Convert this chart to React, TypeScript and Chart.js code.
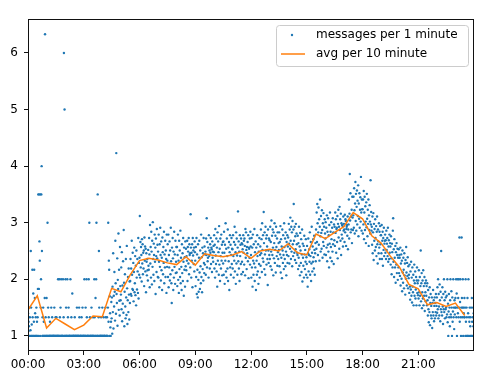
import React, { useEffect, useRef } from "react";
import { Chart, registerables } from "chart.js";

Chart.register(...registerables);

// messages per 1 minute, in hundredths, one value per minute
const msgs00 = [
  140,108,125,117,150,100,133,100,110,250,150,100,120,100,217,133,100,175,100,125,217,100,167,140,100,133,100,150,100,125,
  100,133,183,350,100,183,350,267,233,100,350,150,200,350,400,250,100,133,100,150,100,125,100,100,167,633,100,133,100,100,
  167,100,100,300,100,150,100,133,100,100,100,125,100,100,100,150,100,100,133,100,100,100,100,100,100,150,100,100,100,133,
  100,100,133,100,100,100,100,200,100,100,100,200,100,133,100,150,100,200,100,100,100,100,100,200,100,133,600,100,500,100,
  100,200,100,150,100,100,100,200,100,133,100,150,100,100,100,100,100,200,100,100,133,100,100,175,100,100,100,100,100,100,
  100,133,100,100,100,100,100,100,150,100,100,100,100,100,100,150,133,100,100,100,100,100,100,133,100,100,150,100,100,100,
];
const msgs03 = [
  100,100,200,100,100,100,150,100,100,200,133,100,100,100,100,100,200,100,300,100,133,100,100,100,100,150,100,100,100,100,
  133,100,100,100,200,133,100,100,167,100,200,300,100,100,100,350,100,100,133,250,150,100,100,100,100,100,133,100,100,100,
  150,100,100,100,133,100,100,100,100,100,150,133,100,100,100,133,100,100,150,300,125,233,217,100,170,140,115,100,125,160,
  131,168,104,187,142,246,113,171,152,213,178,127,268,193,139,423,174,158,237,118,199,183,281,146,217,162,136,257,188,163,
  173,221,147,248,126,189,157,232,141,287,194,117,178,209,152,131,236,168,137,259,184,121,163,204,142,219,173,129,196,158,
  197,236,174,219,171,268,208,183,247,181,229,161,213,256,177,193,241,172,224,154,251,203,182,236,214,176,273,166,229,208,
];
const msgs06 = [
  238,312,203,266,221,257,243,196,271,228,262,209,247,219,251,188,274,233,258,214,254,177,246,231,207,236,216,198,252,224,
  217,273,244,186,296,228,257,203,284,249,191,268,222,301,236,208,263,243,197,279,231,256,174,272,241,213,289,237,261,204,
  249,203,279,231,186,262,222,291,243,198,267,216,238,181,274,248,209,257,229,284,193,244,221,268,204,251,236,176,279,222,
  233,262,204,279,186,243,221,267,198,251,209,291,232,193,158,256,216,273,237,181,249,203,284,222,244,192,268,211,231,257,
  212,257,188,243,279,199,233,176,268,218,251,204,286,193,238,222,181,262,211,246,197,273,231,171,256,217,239,187,267,223,
  254,216,241,233,268,197,257,249,228,273,209,262,243,246,221,315,256,203,247,233,262,186,273,242,251,227,256,214,267,248,
];
const msgs09 = [
  233,188,257,204,273,174,244,217,168,262,199,178,238,268,212,183,251,223,193,279,204,239,177,256,218,246,198,273,229,211,
  258,226,244,249,208,272,243,308,221,266,232,238,256,203,278,241,251,219,262,247,273,227,256,253,213,267,238,249,231,259,
  248,278,219,261,203,289,242,227,272,214,256,187,283,233,267,248,208,294,226,254,197,272,241,219,279,233,261,207,247,266,
  228,267,208,284,247,192,261,233,299,214,254,203,272,241,219,288,197,256,232,266,181,248,278,221,261,208,243,273,227,254,
  253,219,278,241,203,266,233,293,214,261,248,192,283,228,272,242,208,256,320,232,267,219,249,197,278,241,261,227,272,209,
  264,231,262,253,213,278,247,268,226,272,259,207,289,238,283,252,218,257,246,266,232,278,202,256,254,238,272,226,284,258,
];
const msgs12 = [
  243,203,273,221,256,187,279,233,208,262,228,289,197,248,221,267,181,256,233,208,278,241,214,262,192,249,227,273,203,243,
  258,224,288,246,271,213,299,252,237,278,231,319,264,218,283,244,208,293,251,272,226,278,258,236,190,288,251,229,272,243,
  269,236,293,223,266,249,304,217,277,243,288,256,207,283,237,264,299,229,252,277,212,293,257,241,272,224,283,248,236,264,
  252,283,223,266,244,294,212,271,238,258,202,288,251,229,278,243,218,299,257,236,272,223,283,249,207,266,243,278,229,258,
  274,241,298,263,228,288,254,309,268,236,293,249,283,223,303,262,241,288,333,268,247,293,234,276,253,298,229,281,262,247,
  243,277,218,264,238,293,224,258,207,282,251,229,271,213,244,288,196,263,238,224,259,203,277,244,218,252,231,271,208,239,
];
const msgs15 = [
  227,259,203,187,246,272,214,243,253,231,283,208,241,266,197,228,293,247,214,258,231,271,239,219,277,252,208,246,264,232,
  288,254,318,266,333,299,243,283,327,261,306,233,293,341,276,249,312,282,254,322,287,238,299,266,317,259,293,244,306,281,
  272,301,243,291,256,313,232,284,261,308,249,278,221,296,263,318,238,284,257,301,271,232,291,249,308,262,283,227,297,269,
  293,259,318,282,306,247,289,291,266,312,237,298,323,274,293,254,328,287,306,268,316,243,299,279,296,272,294,258,311,286,
  298,288,266,314,283,306,303,259,289,293,296,277,311,253,288,297,341,272,316,386,304,352,283,311,288,323,264,346,309,287,
  313,346,291,361,322,281,334,372,303,351,286,328,357,297,339,312,366,276,334,307,352,291,323,345,302,381,318,286,341,324,
];
const msgs18 = [
  324,281,341,297,356,271,318,346,287,329,302,264,336,292,351,307,276,323,298,341,259,313,287,331,302,281,375,297,319,286,
  293,261,311,246,283,317,234,298,268,289,251,306,273,257,294,241,284,311,262,228,288,267,246,299,256,284,236,294,262,278,
  278,246,296,236,268,284,224,273,252,291,241,263,268,279,247,269,236,286,252,263,273,241,291,231,258,269,236,279,247,264,
  258,226,276,237,209,263,248,221,286,308,231,253,204,271,238,221,259,194,248,226,264,211,243,254,199,238,221,253,211,243,
  238,206,256,189,228,244,201,233,179,251,212,194,238,217,184,246,207,228,173,234,201,257,212,189,229,206,239,184,223,202,
  208,176,226,187,164,214,182,231,171,203,159,221,187,177,208,154,198,226,171,193,214,166,182,204,154,198,221,176,193,172,
];
const msgs21 = [
  198,166,216,177,154,204,171,188,251,161,193,211,149,177,198,166,216,154,188,171,204,144,193,177,161,198,171,188,154,193,
  163,136,181,147,124,168,142,186,119,158,174,136,153,131,168,114,158,142,181,136,163,126,153,168,131,158,142,174,136,153,
  168,141,186,147,200,131,174,152,136,191,163,126,178,147,250,142,168,136,186,152,121,174,147,200,142,163,131,178,147,168,
  150,133,171,138,200,124,157,100,143,174,133,150,117,163,200,138,133,179,150,100,168,125,143,200,133,150,112,163,138,150,
  167,150,200,133,175,100,150,200,140,167,133,200,150,274,125,160,200,133,100,150,274,167,133,150,200,100,150,140,133,167,
  133,150,100,200,125,100,150,133,100,167,100,140,200,100,133,125,150,100,117,133,100,150,100,167,125,100,133,150,117,140,
];

// avg per 10 minute line, one vertex every 30 minutes starting 00:00
const avgValues = [
  1.46, 1.71, 1.14, 1.31, 1.21, 1.11, 1.19, 1.35, 1.34, 1.84, 1.78, 2.08,
  2.33, 2.37, 2.34, 2.29, 2.26, 2.40, 2.25, 2.45, 2.42, 2.40, 2.43, 2.49,
  2.37, 2.50, 2.53, 2.50, 2.63, 2.47, 2.43, 2.80, 2.72, 2.83, 2.93, 3.18,
  3.07, 2.77, 2.64, 2.41, 2.21, 1.91, 1.83, 1.55, 1.59, 1.52, 1.58, 1.36,
];
const avgStepMinutes = 30;

const xTickValues = [0, 180, 360, 540, 720, 900, 1080, 1260];
const xTickLabels = ["00:00", "03:00", "06:00", "09:00", "12:00", "15:00", "18:00", "21:00"];
const yTickValues = [1, 2, 3, 4, 5, 6];

const legendLabels = ["messages per 1 minute", "avg per 10 minute"];

const BLUE = "#1f77b4";
const ORANGE = "#ff7f0e";
const FONT = "DejaVu Sans";

export default function App() {
  const ref = useRef<HTMLCanvasElement>(null);

  useEffect(() => {
    if (!ref.current) return;
    const msgs = [...msgs00, ...msgs03, ...msgs06, ...msgs09, ...msgs12, ...msgs15, ...msgs18, ...msgs21];
    const scatterData = msgs.map((v, i) => ({ x: i, y: v / 100 }));
    const avgData = avgValues.map((v, i) => ({ x: i * avgStepMinutes, y: v }));

    const framePlugin = {
      id: "frame",
      afterDatasetsDraw(chart: any) {
        const { ctx, chartArea } = chart;
        const { left, top, right, bottom } = chartArea;
        ctx.save();
        ctx.strokeStyle = "#111";
        ctx.lineWidth = 1;
        ctx.strokeRect(Math.round(left) + 0.5, Math.round(top) + 0.5, Math.round(right - left) - 1, Math.round(bottom - top) - 1);
        ctx.restore();
      },
      afterDraw(chart: any) {
        const ctx = chart.ctx;
        ctx.save();
        const bx = 276.5, by = 25.5, bw = 192, bh = 41, r = 3;
        ctx.beginPath();
        ctx.moveTo(bx + r, by);
        ctx.lineTo(bx + bw - r, by);
        ctx.quadraticCurveTo(bx + bw, by, bx + bw, by + r);
        ctx.lineTo(bx + bw, by + bh - r);
        ctx.quadraticCurveTo(bx + bw, by + bh, bx + bw - r, by + bh);
        ctx.lineTo(bx + r, by + bh);
        ctx.quadraticCurveTo(bx, by + bh, bx, by + bh - r);
        ctx.lineTo(bx, by + r);
        ctx.quadraticCurveTo(bx, by, bx + r, by);
        ctx.closePath();
        ctx.fillStyle = "rgba(255,255,255,0.8)";
        ctx.fill();
        ctx.strokeStyle = "#cccccc";
        ctx.lineWidth = 1;
        ctx.stroke();
        ctx.fillStyle = BLUE;
        ctx.beginPath();
        ctx.arc(292, 35, 1.2, 0, Math.PI * 2);
        ctx.fill();
        ctx.strokeStyle = ORANGE;
        ctx.lineWidth = 1.5;
        ctx.beginPath();
        ctx.moveTo(281, 54);
        ctx.lineTo(305, 54);
        ctx.stroke();
        ctx.fillStyle = "#000";
        ctx.font = `12px "${FONT}"`;
        ctx.textBaseline = "middle";
        ctx.textAlign = "left";
        ctx.fillText(legendLabels[0], 316, 35);
        ctx.fillText(legendLabels[1], 316, 54);
        ctx.restore();
      },
    };

    const chart = new Chart(ref.current, {
      type: "scatter",
      data: {
        datasets: [
          {
            type: "line",
            label: legendLabels[1],
            data: avgData,
            borderColor: ORANGE,
            borderWidth: 1.5,
            pointRadius: 0,
            fill: false,
            tension: 0,
            order: 0,
          } as any,
          {
            type: "scatter",
            label: legendLabels[0],
            data: scatterData,
            backgroundColor: BLUE,
            borderWidth: 0,
            pointRadius: 1.2,
            order: 1,
          } as any,
        ],
      },
      options: {
        animation: false,
        responsive: false,
        events: [],
        layout: { padding: { top: 19, right: 26, left: 0, bottom: 0 } },
        plugins: { legend: { display: false }, tooltip: { enabled: false } },
        scales: {
          x: {
            type: "linear",
            min: 0,
            max: 1440,
            afterBuildTicks: (s: any) => {
              s.ticks = xTickValues.map((v) => ({ value: v }));
            },
            afterFit: (s: any) => {
              s.height = 37;
            },
            ticks: {
              autoSkip: false,
              maxRotation: 0,
              padding: 3,
              color: "#000",
              font: { family: FONT, size: 12 },
              callback: (v: any) => {
                const i = xTickValues.indexOf(Number(v));
                return i >= 0 ? xTickLabels[i] : "";
              },
            },
            grid: { display: true, drawOnChartArea: false, drawTicks: true, tickLength: 4, tickColor: "#111" },
            border: { display: false },
          },
          y: {
            type: "linear",
            min: 0.733,
            max: 6.6,
            afterBuildTicks: (s: any) => {
              s.ticks = yTickValues.map((v) => ({ value: v }));
            },
            afterFit: (s: any) => {
              s.width = 28;
            },
            ticks: {
              padding: 6,
              color: "#000",
              font: { family: FONT, size: 12 },
              callback: (v: any) => String(v),
            },
            grid: { display: true, drawOnChartArea: false, drawTicks: true, tickLength: 4, tickColor: "#111" },
            border: { display: false },
          },
        },
      },
      plugins: [framePlugin],
    });
    return () => chart.destroy();
  }, []);

  return (
    <div style={{ position: "absolute", left: 0, top: 0, width: 500, height: 388, background: "#fff" }}>
      <canvas ref={ref} width={500} height={388} style={{ display: "block", width: 500, height: 388 }} />
    </div>
  );
}
